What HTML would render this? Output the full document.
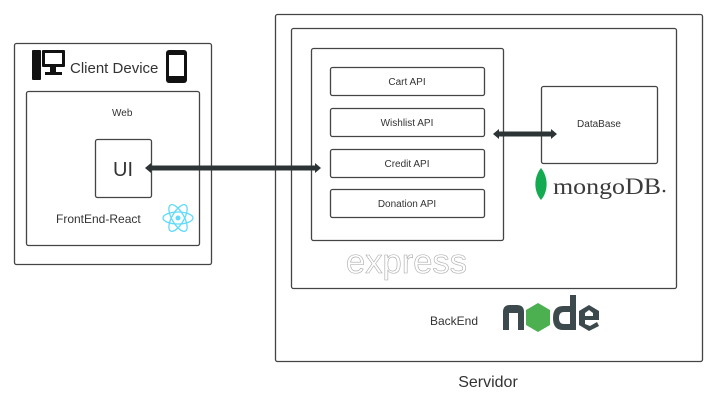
<!DOCTYPE html>
<html><head><style>
body{margin:0;background:#fff;}
svg text{font-family:"Liberation Sans",sans-serif;fill:#333;}
</style></head><body>
<svg width="716" height="409" viewBox="0 0 716 409" xmlns="http://www.w3.org/2000/svg">
<g fill="none" stroke="#444" stroke-width="1.3">
<rect x="14.5" y="43.5" width="197" height="221" rx="2"/>
<rect x="26.5" y="91.5" width="173" height="154" rx="2"/>
<rect x="95.5" y="139.5" width="56" height="58" rx="2"/>
<rect x="275.5" y="14.5" width="427" height="347" rx="2"/>
<rect x="291.5" y="28.5" width="385" height="260" rx="2"/>
<rect x="311.5" y="48.5" width="192" height="192" rx="2"/>
<rect x="330.5" y="67.5" width="154" height="28" rx="2"/>
<rect x="330.5" y="108.5" width="154" height="28" rx="2"/>
<rect x="330.5" y="149.5" width="154" height="28" rx="2"/>
<rect x="330.5" y="189.5" width="154" height="28" rx="2"/>
<rect x="541.5" y="86.5" width="116" height="77" rx="2"/>
</g>
<g stroke="#2d3436" stroke-width="5" fill="#2d3436">
<line x1="150" y1="168" x2="316" y2="168"/>
<line x1="497" y1="134" x2="553" y2="134"/>
</g>
<g fill="#2d3436">
<polygon points="145,168 151,163 151,173"/>
<polygon points="321,168 315,163 315,173"/>
<polygon points="493,134 499,129 499,139"/>
<polygon points="557,134 551,129 551,139"/>
</g>
<g fill="#111">
<rect x="32" y="50" width="9" height="30" rx="1"/>
<rect x="42" y="50" width="23" height="17" rx="1"/>
<rect x="45" y="53" width="17" height="11" fill="#fff"/>
<rect x="50" y="67" width="6" height="6"/>
<rect x="45" y="72" width="17" height="3"/>
<rect x="166" y="50" width="21" height="33" rx="3"/>
<rect x="169" y="55" width="15" height="21" fill="#fff"/>
</g>
<text x="70" y="73" font-size="15">Client Device</text>
<text x="112" y="116" font-size="10">Web</text>
<text x="123" y="176" font-size="20" text-anchor="middle">UI</text>
<text x="56" y="223" font-size="12">FrontEnd-React</text>
<g fill="none" stroke="#61dafb" stroke-width="1.3">
<ellipse cx="178" cy="218" rx="15" ry="6"/>
<ellipse cx="178" cy="218" rx="15" ry="6" transform="rotate(60 178 218)"/>
<ellipse cx="178" cy="218" rx="15" ry="6" transform="rotate(-60 178 218)"/>
</g>
<circle cx="178" cy="218" r="2.5" fill="#61dafb"/>
<g font-size="10" text-anchor="middle">
<text x="407" y="85">Cart API</text>
<text x="407" y="126">Wishlist API</text>
<text x="407" y="167">Credit API</text>
<text x="407" y="207">Donation API</text>
<text x="599" y="127">DataBase</text>
</g>
<path d="M541 168 C533 178 534 192 541 200 C548 192 549 178 541 168Z" fill="#13aa52"/>
<text x="553" y="194" font-size="23" textLength="108" lengthAdjust="spacingAndGlyphs" style="font-family:'Liberation Serif',serif;fill:#3b3b3b">mongoDB</text>
<circle cx="664" cy="191" r="1.3" fill="#3b3b3b"/>
<text x="346" y="273" font-size="34" textLength="121" lengthAdjust="spacingAndGlyphs" style="fill:#fff;stroke:#aaa;stroke-width:0.6">express</text>
<text x="430" y="325" font-size="12">BackEnd</text>
<g fill="#3c4a4e">
<path d="M503 330 V312 Q503 305 510 305 H517 Q524 305 524 312 V330 H518 V313 H509 V330Z"/>
<path d="M553 318 Q553 306 563 306 H570 V295 H576 V330 H563 Q553 330 553 318Z M559 318 Q559 324 564 324 H570 V312 H564 Q559 312 559 318Z"/>
<path d="M589 305 L599 311 V320 H585 V324 L590 326 L597 322 L599 326 L589 331 L579 325 V311Z M585 313 V316 H593 V313 L589 310Z"/>
</g>
<polygon points="538,303 550,310 550,325 538,332 526,325 526,310" fill="#4caf50"/>
<text x="488" y="387" font-size="16" text-anchor="middle">Servidor</text>
</svg>
</body></html>
